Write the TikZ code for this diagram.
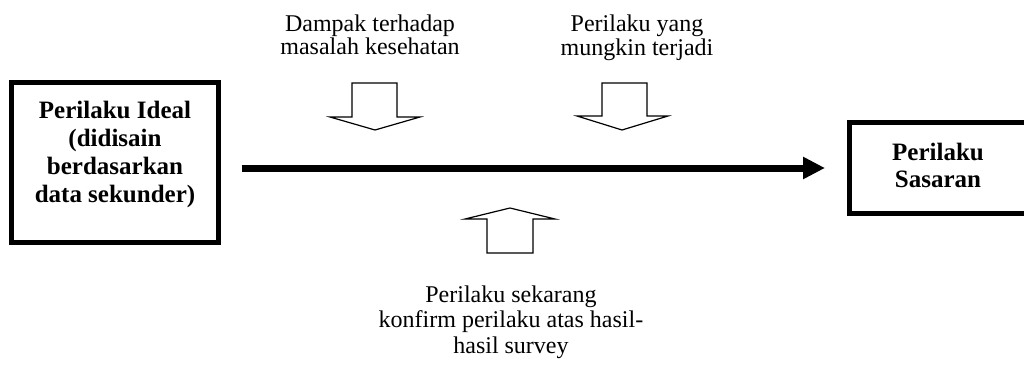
\documentclass[tikz,border=0pt]{standalone}
\usepackage{fontspec}
\setmainfont{Liberation Serif}
\usetikzlibrary{arrows.meta}
\begin{document}
\begin{tikzpicture}[x=1pt,y=-1pt,
  boxframe/.style={draw,line width=5pt,inner sep=0pt},
  boxtext/.style={font=\fontsize{25}{28}\selectfont\bfseries,align=center,inner sep=0pt},
  lbl/.style={font=\fontsize{24}{23.5}\selectfont,align=center,inner sep=0pt},
  blk/.style={draw,line width=1.2pt,fill=white,line join=miter}]
\useasboundingbox (0,0) rectangle (1024,364);
\node[boxframe,minimum width=207pt,minimum height=160pt] (ideal) at (115,162.5) {};
\node[boxtext] (idealtxt) at (115,154) {Perilaku Ideal\\(didisain\\berdasarkan\\data sekunder)};
\node[boxframe,minimum width=210pt,minimum height=91pt] (sasaran) at (954,167.5) {};
\node[boxtext,font=\fontsize{25}{27}\selectfont\bfseries] (sasarantxt) at (938,165) {Perilaku\\Sasaran};
\draw[line width=7pt,-{Triangle[length=22pt,width=21pt]},shorten <=20.5pt,shorten >=21.5pt] (ideal.east |- 0,168) -- (sasaran.west |- 0,168);
\node[lbl] (dampak) at (370,35) {Dampak terhadap\\masalah kesehatan};
\node[lbl] (mungkin) at (637,37.7) {Perilaku yang\\mungkin terjadi};
\node[lbl,font=\fontsize{24}{25.5}\selectfont] (sekarang) at (511,322) {Perilaku sekarang\\konfirm perilaku atas hasil-\\hasil survey};
\draw[blk] (352,83) -- (397,83) -- (397,117) -- (420,117) -- (375,130) -- (330,117) -- (352,117) -- cycle;
\draw[blk] (602,83) -- (647,83) -- (647,116) -- (668,116) -- (622,130) -- (577,116) -- (602,116) -- cycle;
\draw[blk] (487,253) -- (533,253) -- (533,219) -- (555,219) -- (510,208) -- (465,219) -- (487,219) -- cycle;
\end{tikzpicture}
\end{document}
